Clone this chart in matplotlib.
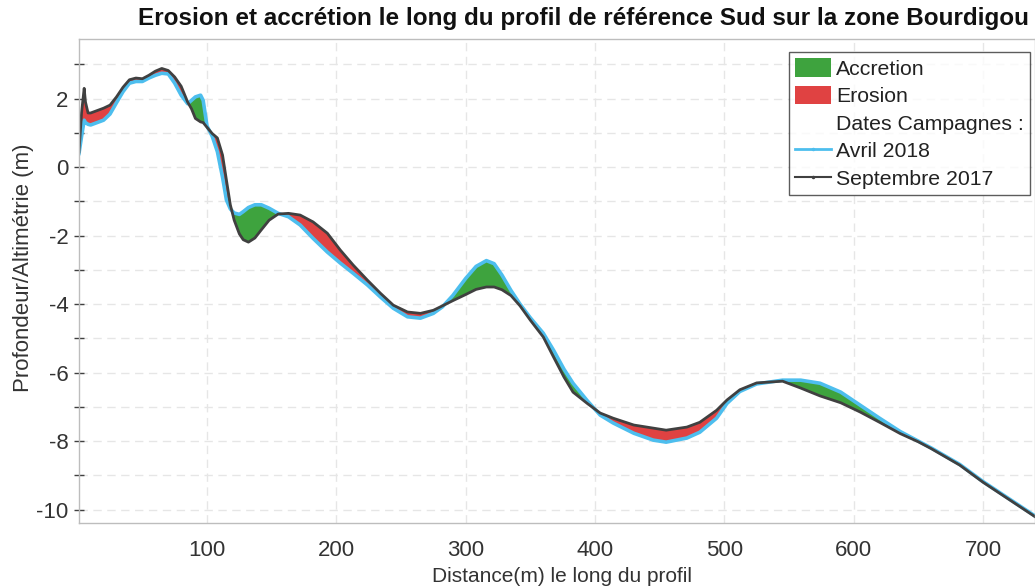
import matplotlib
matplotlib.use("Agg")
import matplotlib.pyplot as plt
import numpy as np
from matplotlib.lines import Line2D
from matplotlib.patches import Patch
from matplotlib.ticker import MultipleLocator

plt.rcParams['font.family'] = ['Liberation Sans', 'DejaVu Sans']
plt.rcParams['axes.unicode_minus'] = False

# distance along the profile (m)
distance = [1, 3, 5, 6, 8, 10, 15, 20, 25, 30, 35, 40, 45, 50, 55, 60, 65, 70, 75, 80,
            85, 88, 91, 95, 97, 100, 104, 108, 112, 115, 118, 121, 125, 128, 132, 137,
            142, 148, 155, 163, 172, 182, 193, 203, 213, 224, 234, 244, 255, 265, 275,
            282, 290, 300, 308, 316, 322, 328, 335, 342, 350, 360, 368, 376, 383, 394,
            404, 414, 430, 445, 455, 471, 481, 494, 502, 512, 525, 545, 559, 574, 590,
            605, 620, 636, 650, 660, 682, 700, 720, 740]

# survey of september 2017
sept2017 = [0.44, 1.6, 2.3, 1.9, 1.58, 1.58, 1.65, 1.72, 1.81, 2.05, 2.33, 2.55, 2.6,
            2.58, 2.68, 2.8, 2.88, 2.82, 2.63, 2.36, 1.9, 1.7, 1.42, 1.32, 1.3, 1.16,
            0.98, 0.85, 0.35, -0.38, -1.1, -1.55, -1.95, -2.12, -2.19, -2.07, -1.83,
            -1.55, -1.37, -1.35, -1.4, -1.6, -1.93, -2.42, -2.86, -3.3, -3.68, -4.03,
            -4.23, -4.27, -4.18, -4.05, -3.9, -3.72, -3.57, -3.5, -3.5, -3.58, -3.75,
            -4.05, -4.47, -4.96, -5.55, -6.13, -6.57, -6.9, -7.18, -7.33, -7.53, -7.62,
            -7.68, -7.59, -7.45, -7.1, -6.8, -6.5, -6.3, -6.25, -6.45, -6.68, -6.88,
            -7.15, -7.45, -7.78, -8.02, -8.22, -8.7, -9.2, -9.7, -10.2]

# survey of april 2018
avril2018 = [0.40, 0.9, 1.37, 1.3, 1.25, 1.23, 1.3, 1.37, 1.55, 1.88, 2.2, 2.45, 2.5,
             2.5, 2.6, 2.68, 2.74, 2.72, 2.45, 2.1, 1.85, 1.95, 2.05, 2.1, 1.95, 1.2,
             0.9, 0.45, -0.3, -0.96, -1.22, -1.34, -1.38, -1.3, -1.18, -1.1, -1.1,
             -1.2, -1.35, -1.45, -1.69, -2.08, -2.48, -2.8, -3.1, -3.44, -3.79, -4.12,
             -4.37, -4.41, -4.27, -4.08, -3.75, -3.25, -2.9, -2.73, -2.82, -3.15, -3.6,
             -4.0, -4.4, -4.85, -5.35, -5.9, -6.31, -6.82, -7.24, -7.47, -7.77, -7.97,
             -8.03, -7.91, -7.74, -7.33, -6.9, -6.55, -6.33, -6.22, -6.22, -6.31, -6.57,
             -6.95, -7.33, -7.72, -8.0, -8.2, -8.68, -9.18, -9.68, -10.18]

green = '#3ea33e'
red = '#e04242'
blue = '#4dbeee'
dark = '#404040'

x = np.array(distance)
y_old = np.array(sept2017)
y_new = np.array(avril2018)

fig = plt.figure(figsize=(10.35, 5.88), dpi=100)
ax = fig.add_axes([79 / 1035, 1 - 523 / 588, 1 - 79 / 1035, (523 - 39) / 588])

ax.fill_between(x, y_old, y_new, where=y_new >= y_old, interpolate=True,
                color=green, linewidth=0)
ax.fill_between(x, y_old, y_new, where=y_new < y_old, interpolate=True,
                color=red, linewidth=0)
ax.plot(x, y_new, color=blue, linewidth=2.6, solid_joinstyle='round')
ax.plot(x, y_old, color=dark, linewidth=2.0, solid_joinstyle='round')

ax.set_xlim(1, 740.2)
ax.set_ylim(-10.39, 3.74)
ax.xaxis.set_major_locator(MultipleLocator(100))
ax.yaxis.set_major_locator(MultipleLocator(2))
ax.yaxis.set_minor_locator(MultipleLocator(1))

ax.grid(True, which='both', axis='y', color='#e6e6e6', linestyle=(0, (6, 4)), linewidth=1)
ax.grid(True, which='major', axis='x', color='#e6e6e6', linestyle=(0, (6, 4)), linewidth=1)
ax.set_axisbelow(True)

for s in ax.spines.values():
    s.set_color('#bdbdbd')
    s.set_linewidth(1.0)

ax.tick_params(axis='y', which='both', direction='inout', length=7, width=1,
               color=dark, labelsize=16, labelcolor='#333333', pad=4)
ax.tick_params(axis='x', which='both', length=0, labelsize=16,
               labelcolor='#333333', pad=12)

fig.text(0.5635, 1 - 18 / 588, "Erosion et accrétion le long du profil de référence Sud sur la zone Bourdigou",
         ha='center', va='center', fontsize=17.5, fontweight='bold', color='#111111')
fig.text(562 / 1035, 1 - 576 / 588, "Distance(m) le long du profil", ha='center', va='center',
         fontsize=15, color='#333333')
fig.text(24 / 1035, 1 - 268 / 588, "Profondeur/Altimétrie (m)", ha='center', va='center',
         rotation=90, fontsize=16, color='#333333')

handles = [
    Patch(facecolor=green, edgecolor='none'),
    Patch(facecolor=red, edgecolor='none'),
    Patch(facecolor='none', edgecolor='none'),
    Line2D([], [], color=blue, linewidth=2, marker='.', markersize=3),
    Line2D([], [], color=dark, linewidth=1.5, marker='.', markersize=3),
]
labels = ["Accretion", "Erosion", "Dates Campagnes :", "Avril 2018", "Septembre 2017"]
leg = ax.legend(handles, labels, loc='upper right', bbox_to_anchor=(1030 / 1035, 1 - 52 / 588),
                bbox_transform=fig.transFigure, fontsize=15.3, frameon=True, fancybox=False,
                handlelength=1.7, handleheight=0.95, handletextpad=0.22, borderpad=0.3,
                labelspacing=0.33, borderaxespad=0)
leg.get_frame().set_edgecolor('#333333')
leg.get_frame().set_linewidth(1.0)
for t in leg.get_texts():
    t.set_color('#222222')

fig.savefig("out.png", dpi=100)
